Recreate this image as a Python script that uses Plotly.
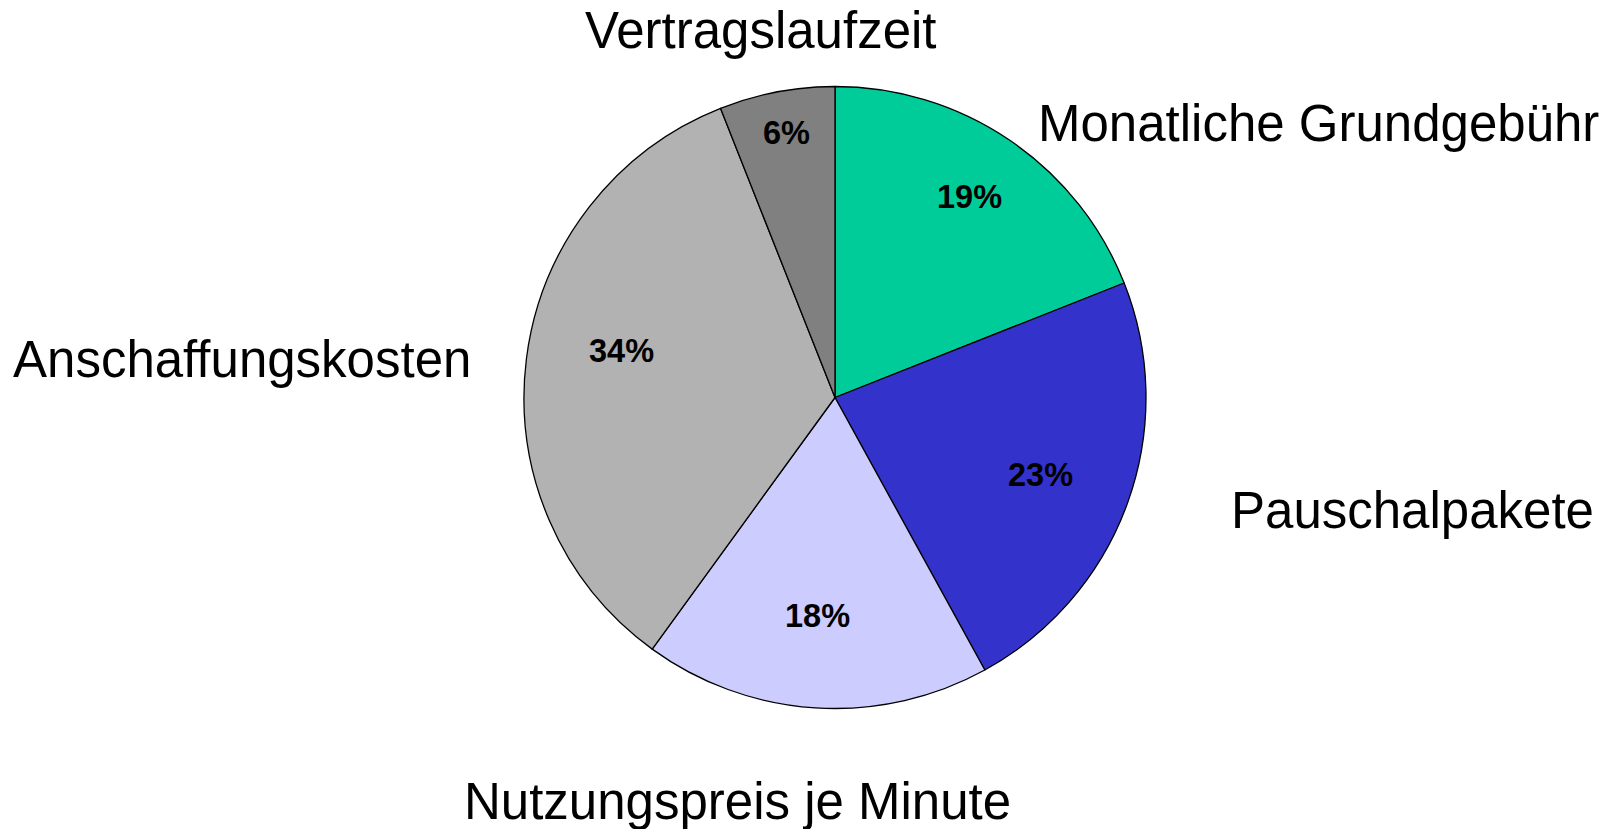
import plotly.graph_objects as go

categories = ["Monatliche Grundgebühr", "Pauschalpakete", "Nutzungspreis je Minute",
              "Anschaffungskosten", "Vertragslaufzeit"]
values = [19, 23, 18, 34, 6]
colors = ["#00CC99", "#3333CC", "#CCCCFF", "#B2B2B2", "#808080"]

OFF = 8  # default page body margin
W, H = 1608 - OFF, 829 - OFF
cx, cy, r = 835 - OFF, 397.5 - OFF, 311

fig = go.Figure(go.Pie(
    labels=categories,
    values=values,
    sort=False,
    direction="clockwise",
    rotation=0,
    marker=dict(colors=colors, line=dict(color="black", width=1.3)),
    textinfo="none",
    domain=dict(x=[(cx - r) / W, (cx + r) / W], y=[(H - cy - r) / H, (H - cy + r) / H]),
    showlegend=False,
    hoverinfo="label+percent",
))

FONT = "Liberation Sans"

# outside category labels (page pixel centers)
label_pos = {
    "Monatliche Grundgebühr": (1318, 124),
    "Pauschalpakete": (1412, 510),
    "Nutzungspreis je Minute": (737, 801),
    "Anschaffungskosten": (242, 359),
    "Vertragslaufzeit": (761, 30),
}
# percentage labels inside slices (page pixel centers)
pct_pos = {
    "Monatliche Grundgebühr": (969.5, 197.5),
    "Pauschalpakete": (1040, 474.5),
    "Nutzungspreis je Minute": (817, 616),
    "Anschaffungskosten": (621.7, 350.8),
    "Vertragslaufzeit": (786.3, 132.5),
}
total = sum(values)
for name, v in zip(categories, values):
    x, y = label_pos[name]
    fig.add_annotation(text=name, x=(x - OFF) / W, y=1 - (y - OFF) / H,
                       xref="paper", yref="paper", xanchor="center", yanchor="middle",
                       showarrow=False, font=dict(family=FONT, size=51, color="black"))
    px, py = pct_pos[name]
    fig.add_annotation(text=f"{round(100 * v / total)}%", x=(px - OFF) / W, y=1 - (py - OFF) / H,
                       xref="paper", yref="paper", xanchor="center", yanchor="middle",
                       showarrow=False,
                       font=dict(family=FONT, size=32.5, color="black", weight="bold"))

fig.update_layout(
    width=W, height=H,
    margin=dict(l=0, r=0, t=0, b=0),
    paper_bgcolor="white", plot_bgcolor="white",
)
fig.write_html("out.html")
